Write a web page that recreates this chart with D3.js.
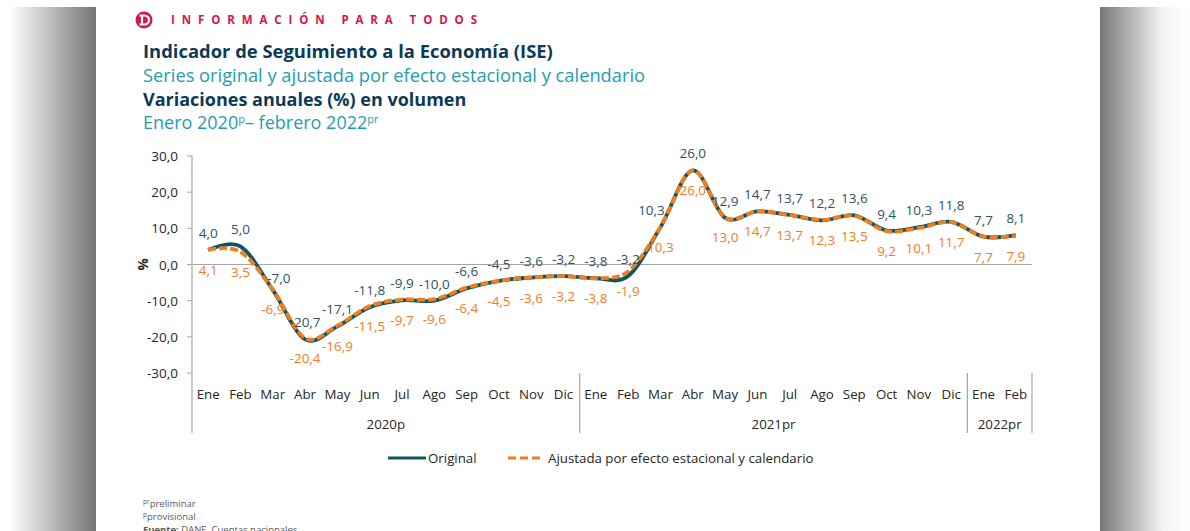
<!DOCTYPE html>
<html>
<head>
<meta charset="utf-8">
<script src="https://cdn.jsdelivr.net/npm/d3@7"></script>
<style>
  body { margin: 0; background: #ffffff; }
  svg { display: block; font-family: "Open Sans", "Noto Sans", sans-serif; }
</style>
</head>
<body>
<svg id="chart"></svg>
<script>
// months and years
const months = ['Ene','Feb','Mar','Abr','May','Jun','Jul','Ago','Sep','Oct','Nov','Dic',
                'Ene','Feb','Mar','Abr','May','Jun','Jul','Ago','Sep','Oct','Nov','Dic',
                'Ene','Feb'];
const years = [
    { label: '2020p', start: 0, end: 12 },
    { label: '2021pr', start: 12, end: 24 },
    { label: '2022pr', start: 24, end: 26 }
];
const original = [4.0, 5.0, -7.0, -20.7, -17.1, -11.8, -9.9, -10.0, -6.6, -4.5, -3.6, -3.2,
                  -3.8, -3.2, 10.3, 26.0, 12.9, 14.7, 13.7, 12.2, 13.6, 9.4, 10.3, 11.8,
                  7.7, 8.1];
const ajustada = [4.1, 3.5, -6.9, -20.4, -16.9, -11.5, -9.7, -9.6, -6.4, -4.5, -3.6, -3.2,
                  -3.8, -1.9, 10.3, 26.0, 13.0, 14.7, 13.7, 12.3, 13.5, 9.2, 10.1, 11.7,
                  7.7, 7.9];
const y_ticks = [30, 20, 10, 0, -10, -20, -30];

let width = 1190;
let height = 531;
let card_left = 96;
let card_right = 1100;
let plot_left = 192;
let plot_right = 1032;
let plot_top = 156;
let plot_bottom = 373;

let teal = '#0f5660';
let orange = '#f07d1e';
let label_dark = '#2f5168';

const svg = d3.select('#chart').attr('width', width).attr('height', height);

// gray side shading
let defs = svg.append('defs');
let grad_left = defs.append('linearGradient').attr('id', 'grad_left');
grad_left.append('stop').attr('offset', '10%').attr('stop-color', '#ffffff');
grad_left.append('stop').attr('offset', '100%').attr('stop-color', '#747474');
let grad_right = defs.append('linearGradient').attr('id', 'grad_right');
grad_right.append('stop').attr('offset', '0%').attr('stop-color', '#777777');
grad_right.append('stop').attr('offset', '70%').attr('stop-color', '#f4f4f4');
grad_right.append('stop').attr('offset', '100%').attr('stop-color', '#ffffff');

svg.append('rect').attr('x', 0).attr('y', 7).attr('width', card_left).attr('height', height - 7)
    .attr('fill', 'url(#grad_left)');
svg.append('rect').attr('x', card_right).attr('y', 7).attr('width', width - card_right).attr('height', height - 7)
    .attr('fill', 'url(#grad_right)');

// header
let logo = svg.append('g').attr('transform', 'translate(144,20)');
logo.append('circle').attr('r', 8.5).attr('fill', '#d8154b');
logo.append('path').attr('d', 'M-4.5,-4.5 H0.5 A4.5,4.5 0 0 1 0.5,4.5 H-4.5 M-2,-4.5 V4.5')
    .attr('fill', 'none').attr('stroke', '#ffffff').attr('stroke-width', 2.2);

svg.append('text').attr('x', 171).attr('y', 24)
    .attr('fill', '#d8154b').attr('font-size', 11.5).attr('font-weight', 700)
    .attr('letter-spacing', '6.9px')
    .text('INFORMACIÓN PARA TODOS');

svg.append('text').attr('x', 143).attr('y', 58)
    .attr('fill', '#0d3a56').attr('font-size', 18.4).attr('font-weight', 700)
    .text('Indicador de Seguimiento a la Economía (ISE)');
svg.append('text').attr('x', 143).attr('y', 82)
    .attr('fill', '#1e9db3').attr('font-size', 18.3)
    .text('Series original y ajustada por efecto estacional y calendario');
svg.append('text').attr('x', 143).attr('y', 106)
    .attr('fill', '#0d3a56').attr('font-size', 18).attr('font-weight', 700)
    .text('Variaciones anuales (%) en volumen');
let period = svg.append('text').attr('x', 143).attr('y', 129)
    .attr('fill', '#1e9db3').attr('font-size', 18);
period.append('tspan').text('Enero 2020');
period.append('tspan').attr('font-size', 11).attr('dy', -6).text('p');
period.append('tspan').attr('dy', 6).text('– febrero 2022');
period.append('tspan').attr('font-size', 11).attr('dy', -6).text('pr');

// scales
var x_band = d3.scaleBand()
    .domain(d3.range(months.length))
    .range([plot_left, plot_right]);

var y_range = d3.scaleLinear()
    .domain([-30, 30])
    .range([plot_bottom, plot_top]);

// y axis
svg.append('line')
    .attr('x1', plot_left).attr('x2', plot_left)
    .attr('y1', plot_top).attr('y2', plot_bottom + 60)
    .attr('stroke', '#a6a6a6').attr('stroke-width', 1.2);

y_ticks.forEach(d => {
    svg.append('line')
        .attr('x1', plot_left - 5).attr('x2', plot_left)
        .attr('y1', y_range(d)).attr('y2', y_range(d))
        .attr('stroke', '#a6a6a6');
    svg.append('text')
        .attr('x', 178)
        .attr('y', y_range(d) + 5)
        .attr('text-anchor', 'end')
        .attr('font-size', 13.5)
        .attr('fill', '#262626')
        .text(d3.format('.1f')(d).replace('.', ',').replace('−', '-'));
});

svg.append('text')
    .attr('transform', 'translate(148,' + (y_range(0)) + ') rotate(-90)')
    .attr('text-anchor', 'middle')
    .attr('font-size', 13.5).attr('font-weight', 700).attr('fill', '#262626')
    .text('%');

// zero line
svg.append('line')
    .attr('x1', plot_left).attr('x2', plot_right)
    .attr('y1', y_range(0)).attr('y2', y_range(0))
    .attr('stroke', '#a6a6a6').attr('stroke-width', 1.2);

// category axis
months.forEach((m, i) => {
    svg.append('text')
        .attr('x', x_band(i) + x_band.bandwidth() / 2)
        .attr('y', 399)
        .attr('text-anchor', 'middle')
        .attr('font-size', 13.3)
        .attr('fill', '#262626')
        .text(m);
});

years.forEach(yr => {
    let x0 = x_band(yr.start);
    let x1 = yr.end < months.length ? x_band(yr.end) : plot_right;
    svg.append('line')
        .attr('x1', x1).attr('x2', x1)
        .attr('y1', plot_bottom).attr('y2', plot_bottom + 60)
        .attr('stroke', '#a6a6a6').attr('stroke-width', 1.2);
    svg.append('text')
        .attr('x', (x0 + x1) / 2)
        .attr('y', 429)
        .attr('text-anchor', 'middle')
        .attr('font-size', 13.3)
        .attr('fill', '#262626')
        .text(yr.label);
});

// lines
let line = d3.line()
    .x((d, i) => x_band(i) + x_band.bandwidth() / 2)
    .y(d => y_range(d))
    .curve(d3.curveCatmullRom.alpha(0));

svg.append('path').datum(original)
    .attr('d', line)
    .attr('fill', 'none').attr('stroke', teal).attr('stroke-width', 3.8);

svg.append('path').datum(ajustada)
    .attr('d', line)
    .attr('fill', 'none').attr('stroke', orange).attr('stroke-width', 3.8)
    .attr('stroke-dasharray', '8,3');

// data labels
function fmt(v) { return d3.format('.1f')(v).replace('.', ',').replace('−', '-'); }

// a few labels were nudged by hand in the source chart
let orig_nudge = { 2: [6, 5], 14: [-9, 0] };

original.forEach((v, i) => {
    let n = orig_nudge[i] || [0, 0];
    svg.append('text')
        .attr('x', x_band(i) + x_band.bandwidth() / 2 + n[0])
        .attr('y', y_range(v) - 12 + n[1])
        .attr('text-anchor', 'middle')
        .attr('font-size', 13.5)
        .attr('fill', label_dark)
        .text(fmt(v));
});

ajustada.forEach((v, i) => {
    svg.append('text')
        .attr('x', x_band(i) + x_band.bandwidth() / 2)
        .attr('y', y_range(v) + 25)
        .attr('text-anchor', 'middle')
        .attr('font-size', 13.5)
        .attr('fill', orange)
        .text(fmt(v));
});

// legend
let legend = svg.append('g').attr('transform', 'translate(0,458)');
legend.append('line').attr('x1', 388).attr('x2', 426).attr('y1', 0).attr('y2', 0)
    .attr('stroke', teal).attr('stroke-width', 3);
legend.append('text').attr('x', 428).attr('y', 5).attr('font-size', 13.3).attr('fill', '#262626')
    .text('Original');
legend.append('line').attr('x1', 508).attr('x2', 544).attr('y1', 0).attr('y2', 0)
    .attr('stroke', orange).attr('stroke-width', 3).attr('stroke-dasharray', '8,4');
legend.append('text').attr('x', 548).attr('y', 5).attr('font-size', 13.3).attr('fill', '#262626')
    .text('Ajustada por efecto estacional y calendario');

// footnotes
let note1 = svg.append('text').attr('x', 143).attr('y', 507).attr('font-size', 9.5).attr('fill', '#595959');
note1.append('tspan').attr('font-size', 6.5).attr('dy', -3).text('pr');
note1.append('tspan').attr('dy', 3).text('preliminar');
let note2 = svg.append('text').attr('x', 143).attr('y', 520).attr('font-size', 9.5).attr('fill', '#595959');
note2.append('tspan').attr('font-size', 6.5).attr('dy', -3).text('p');
note2.append('tspan').attr('dy', 3).text('provisional');
let note3 = svg.append('text').attr('x', 143).attr('y', 533).attr('font-size', 9.5).attr('fill', '#595959');
note3.append('tspan').attr('font-weight', 700).text('Fuente:');
note3.append('tspan').text(' DANE, Cuentas nacionales');
</script>
</body>
</html>
